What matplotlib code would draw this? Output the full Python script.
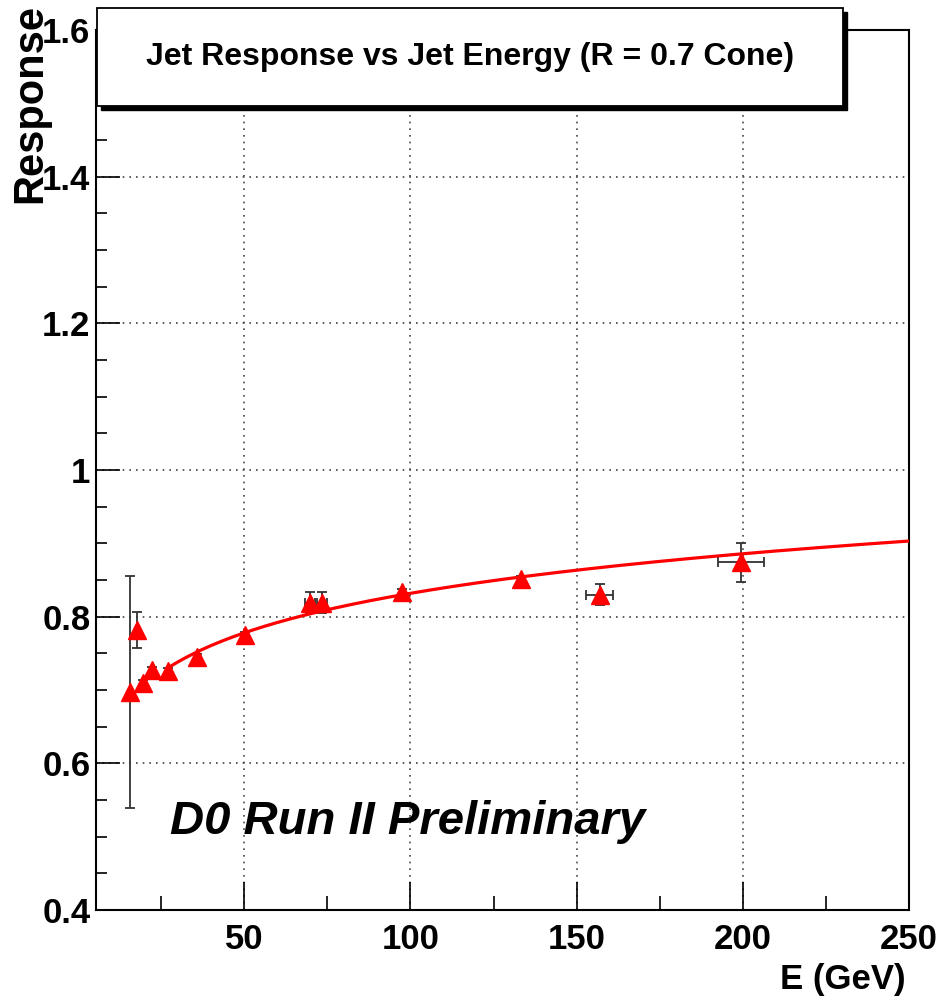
import numpy as np
import matplotlib.pyplot as plt
from matplotlib.patches import Rectangle
from matplotlib.ticker import MultipleLocator

plt.rcParams['font.family'] = ['Liberation Sans', 'DejaVu Sans']
plt.rcParams['font.weight'] = 'bold'

# jet response points
energy = [15.7, 17.8, 19.6, 22.3, 27.1, 35.8, 50.3, 69.9, 73.5, 97.6, 133.4, 156.9, 199.4]
response = [0.697, 0.782, 0.710, 0.727, 0.726, 0.745, 0.775, 0.819, 0.819, 0.833, 0.851, 0.830, 0.874]
response_err = [0.158, 0.025, 0.004, 0.004, 0.004, 0.004, 0.004, 0.014, 0.014, 0.005, 0.005, 0.014, 0.027]
energy_err = [0.3, 0.3, 0.3, 0.3, 0.3, 0.3, 0.3, 1.5, 1.5, 0.5, 0.5, 4.0, 7.0]

# fit: R(E) = p0 + p1*ln(E)
fit_pars = [0.4736, 0.0778]
fit_range = [27.0, 250.0]

fig = plt.figure(figsize=(9.44, 10.02), dpi=100)
ax = fig.add_axes([0.1017, 0.0918, 0.8612, 0.8782])

# dotted grid at the major ticks
ax.grid(True, which='major', color='#444444', linestyle=(0, (1, 3)), linewidth=1.2)
ax.set_axisbelow(True)

ax.errorbar(energy, response, yerr=response_err, xerr=energy_err, fmt='none',
            ecolor='#333333', elinewidth=1.3, capsize=3.5, capthick=1.3, zorder=3)
ax.plot(energy, response, linestyle='none', marker='^', markersize=13.5,
        color='#ff0000', markeredgecolor='#ff0000', zorder=4)

e_fit = np.linspace(fit_range[0], fit_range[1], 300)
ax.plot(e_fit, fit_pars[0] + fit_pars[1] * np.log(e_fit), color='#ff0000',
        linewidth=2.3, zorder=3)

ax.set_xlim(5.4, 250)
ax.set_ylim(0.4, 1.6)
ax.xaxis.set_major_locator(MultipleLocator(50))
ax.xaxis.set_minor_locator(MultipleLocator(25))
ax.yaxis.set_major_locator(MultipleLocator(0.2))
ax.yaxis.set_minor_locator(MultipleLocator(0.05))
ax.set_xticks([50, 100, 150, 200, 250])
ax.set_xticklabels(['50', '100', '150', '200', '250'])
ax.set_yticks([0.4, 0.6, 0.8, 1.0, 1.2, 1.4, 1.6])
ax.set_yticklabels(['0.4', '0.6', '0.8', '1', '1.2', '1.4', '1.6'])

ax.tick_params(axis='x', which='major', direction='in', length=20, width=1.2,
               labelsize=25, pad=9)
ax.tick_params(axis='x', which='minor', direction='in', length=10, width=1.2)
ax.tick_params(axis='y', which='major', direction='in', length=17, width=1.2,
               labelsize=25, pad=4)
ax.tick_params(axis='y', which='minor', direction='in', length=8, width=1.2)
for s in ax.spines.values():
    s.set_linewidth(1.5)

ax.text(27.7, 0.52, 'D0 Run II Preliminary', fontsize=34, fontstyle='italic',
        fontweight='bold', ha='left', va='center')

fig.text(0.032, 0.996, 'Response', rotation=90, fontsize=30, ha='center', va='top')
fig.text(0.959, 0.022, 'E (GeV)', fontsize=25, ha='right', va='center')

# title box with drop shadow
box_x, box_y, box_w, box_h = 0.1028, 0.894, 0.790, 0.098
shadow = Rectangle((box_x + 0.004, box_y - 0.004), box_w, box_h,
                   transform=fig.transFigure, facecolor='black', edgecolor='black',
                   zorder=5)
box = Rectangle((box_x, box_y), box_w, box_h, transform=fig.transFigure,
                facecolor='white', edgecolor='black', linewidth=1.3, zorder=6)
fig.add_artist(shadow)
fig.add_artist(box)
fig.text(box_x + box_w / 2, box_y + box_h / 2, 'Jet Response vs Jet Energy (R = 0.7 Cone)',
         fontsize=23, ha='center', va='center', zorder=7)

fig.savefig('out.png', dpi=100)
